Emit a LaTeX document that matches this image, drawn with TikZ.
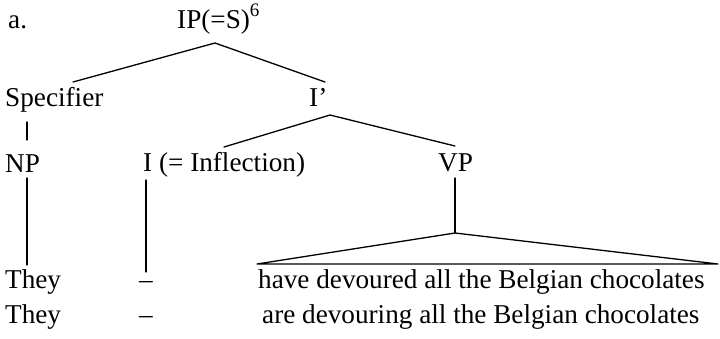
\documentclass[tikz,border=0pt]{standalone}
\usepackage{fontspec}
\setmainfont{Liberation Serif}
\begin{document}
\begin{tikzpicture}[x=1pt,y=-1pt,
  lbl/.style={anchor=base west,inner sep=0pt,font=\fontsize{27.2}{30}\selectfont},
  lbc/.style={anchor=base,inner sep=0pt,font=\fontsize{27.2}{30}\selectfont},
  edge/.style={line width=1.3pt,line cap=round,line join=round}]
\useasboundingbox (0,0) rectangle (720,338);
% labels
\node[lbl] (a) at (8,28) {a.};
\node[lbl] (ip) at (177,28) {IP(=S)\raisebox{2pt}{\textsuperscript{6}}};
\node[lbl] (spec) at (5,106) {Specifier};
\node[lbl] (ibar) at (309,106) {I’};
\node[lbl] (np) at (5,172) {NP};
\node[lbl] (infl) at (143,171) {I (= Inflection)};
\node[lbl] (vp) at (438,171) {VP};
\node[lbl] (they1) at (5,288) {They};
\node[lbc] (dash1) at (146,288) {–};
\node[lbl] (vp1) at (258,288) {have devoured all the Belgian chocolates};
\node[lbl] (they2) at (5,323) {They};
\node[lbc] (dash2) at (146,323) {–};
\node[lbl] (vp2) at (262,323) {are devouring all the Belgian chocolates};
% attachment points
\coordinate (ipB) at (215,43);
\coordinate (specT) at (73,82);
\coordinate (ibarT) at (325,82);
\coordinate (specB) at (27,122);
\coordinate (npT) at (27,140);
\coordinate (ibarB) at (330,115);
\coordinate (inflT) at (224,147);
\coordinate (vpT) at (455,146);
\coordinate (npB) at (27,178);
\coordinate (they1T) at (27,265);
\coordinate (inflB) at (146,180);
\coordinate (dash1T) at (146,272);
\coordinate (vpB) at (455,178);
\coordinate (triA) at (455,233);
\coordinate (triL) at (257,264);
\coordinate (triR) at (718,264);
% edges
\draw[edge] (specT) -- (ipB) -- (ibarT);
\draw[edge] (specB) -- (npT);
\draw[edge] (inflT) -- (ibarB) -- (vpT);
\draw[edge] (npB) -- (they1T);
\draw[edge] (inflB) -- (dash1T);
\draw[edge] (vpB) -- (triA);
\draw[edge] (triA) -- (triL) -- (triR) -- cycle;
\end{tikzpicture}
\end{document}
